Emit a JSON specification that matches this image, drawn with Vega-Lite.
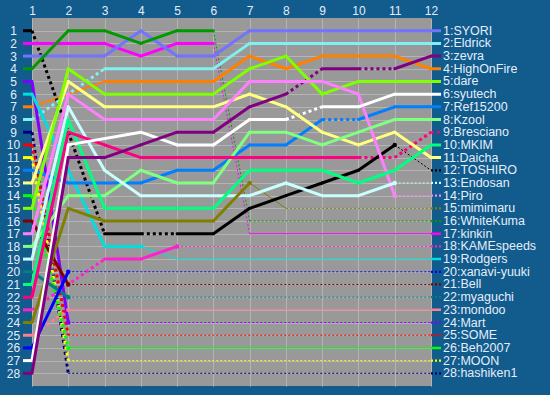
{
"$schema":"https://vega.github.io/schema/vega-lite/v6.json",
"width":399,"height":368,
"autosize":{"type":"none"},
"padding":{"left":32,"top":18,"right":119,"bottom":9},
"background":"#115b8d",
"view":{"fill":"#999999","stroke":null},
"config":{"font":"Liberation Sans","axis":{"labelColor":"#e4eefa","labelFontSize":12,"labelOverlap":false,"domain":false,"ticks":false,"tickSize":0,"tickCount":40,"gridColor":"#b4b4b4","gridWidth":1}},
"data":{"values":[
{"p":"TOSHIRO","r":1,"k":1,"r2":3,"k2":17,"s":"d"},
{"p":"TOSHIRO","r":3,"k":17,"r2":4,"k2":17,"s":"s"},
{"p":"TOSHIRO","r":4,"k":17,"r2":5,"k2":17,"s":"d"},
{"p":"TOSHIRO","r":5,"k":17,"r2":6,"k2":17,"s":"s"},
{"p":"TOSHIRO","r":6,"k":17,"r2":7,"k2":15,"s":"s"},
{"p":"TOSHIRO","r":7,"k":15,"r2":8,"k2":14,"s":"s"},
{"p":"TOSHIRO","r":8,"k":14,"r2":9,"k2":13,"s":"s"},
{"p":"TOSHIRO","r":9,"k":13,"r2":10,"k2":12,"s":"s"},
{"p":"TOSHIRO","r":10,"k":12,"r2":11,"k2":10,"s":"s","e":1},
{"p":"TOSHIRO","r":11,"k":10,"r2":12,"k2":12,"s":"td"},
{"p":"kinkin","r":1,"k":2,"r2":3,"k2":2,"s":"s"},
{"p":"kinkin","r":3,"k":2,"r2":4,"k2":3,"s":"s"},
{"p":"kinkin","r":4,"k":3,"r2":5,"k2":2,"s":"s"},
{"p":"kinkin","r":5,"k":2,"r2":6,"k2":2,"s":"s"},
{"p":"kinkin","r":6,"k":2,"r2":7,"k2":17,"s":"td"},
{"p":"kinkin","r":7,"k":17,"r2":12,"k2":17,"s":"t"},
{"p":"SYORI","r":1,"k":3,"r2":3,"k2":3,"s":"s"},
{"p":"SYORI","r":3,"k":3,"r2":4,"k2":1,"s":"s"},
{"p":"SYORI","r":4,"k":1,"r2":5,"k2":3,"s":"s"},
{"p":"SYORI","r":5,"k":3,"r2":6,"k2":3,"s":"s"},
{"p":"SYORI","r":6,"k":3,"r2":7,"k2":1,"s":"s"},
{"p":"SYORI","r":7,"k":1,"r2":12,"k2":1,"s":"s"},
{"p":"WhiteKuma","r":1,"k":4,"r2":2,"k2":1,"s":"s"},
{"p":"WhiteKuma","r":2,"k":1,"r2":3,"k2":1,"s":"s"},
{"p":"WhiteKuma","r":3,"k":1,"r2":4,"k2":2,"s":"s"},
{"p":"WhiteKuma","r":4,"k":2,"r2":5,"k2":1,"s":"s"},
{"p":"WhiteKuma","r":5,"k":1,"r2":6,"k2":1,"s":"s"},
{"p":"WhiteKuma","r":6,"k":1,"r2":7,"k2":16,"s":"td"},
{"p":"WhiteKuma","r":7,"k":16,"r2":12,"k2":16,"s":"td"},
{"p":"Mart","r":1,"k":5,"r2":2,"k2":24,"s":"s","e":1},
{"p":"Mart","r":2,"k":24,"r2":12,"k2":24,"s":"td"},
{"p":"Rodgers","r":1,"k":6,"r2":2,"k2":12,"s":"s"},
{"p":"Rodgers","r":2,"k":12,"r2":3,"k2":18,"s":"s"},
{"p":"Rodgers","r":3,"k":18,"r2":4,"k2":18,"s":"s","e":1},
{"p":"Rodgers","r":4,"k":18,"r2":5,"k2":19,"s":"t"},
{"p":"Rodgers","r":5,"k":19,"r2":12,"k2":19,"s":"t"},
{"p":"HighOnFire","r":1,"k":7,"r2":3,"k2":5,"s":"m"},
{"p":"HighOnFire","r":3,"k":5,"r2":6,"k2":5,"s":"s"},
{"p":"HighOnFire","r":6,"k":5,"r2":7,"k2":3,"s":"s"},
{"p":"HighOnFire","r":7,"k":3,"r2":8,"k2":4,"s":"s"},
{"p":"HighOnFire","r":8,"k":4,"r2":9,"k2":3,"s":"s"},
{"p":"HighOnFire","r":9,"k":3,"r2":11,"k2":3,"s":"s"},
{"p":"HighOnFire","r":11,"k":3,"r2":12,"k2":4,"s":"s"},
{"p":"Eldrick","r":1,"k":8,"r2":3,"k2":4,"s":"d"},
{"p":"Eldrick","r":3,"k":4,"r2":6,"k2":4,"s":"s"},
{"p":"Eldrick","r":6,"k":4,"r2":7,"k2":2,"s":"s"},
{"p":"Eldrick","r":7,"k":2,"r2":12,"k2":2,"s":"s"},
{"p":"hashiken1","r":1,"k":9,"r2":2,"k2":28,"s":"d"},
{"p":"hashiken1","r":2,"k":28,"r2":12,"k2":28,"s":"td"},
{"p":"SOME","r":1,"k":10,"r2":2,"k2":25,"s":"d"},
{"p":"SOME","r":2,"k":25,"r2":12,"k2":25,"s":"td"},
{"p":"MOON","r":1,"k":11,"r2":2,"k2":27,"s":"d"},
{"p":"MOON","r":2,"k":27,"r2":12,"k2":27,"s":"td"},
{"p":"Ref15200","r":1,"k":12,"r2":2,"k2":13,"s":"s"},
{"p":"Ref15200","r":2,"k":13,"r2":4,"k2":13,"s":"s"},
{"p":"Ref15200","r":4,"k":13,"r2":5,"k2":12,"s":"s"},
{"p":"Ref15200","r":5,"k":12,"r2":6,"k2":12,"s":"s"},
{"p":"Ref15200","r":6,"k":12,"r2":7,"k2":10,"s":"s"},
{"p":"Ref15200","r":7,"k":10,"r2":8,"k2":10,"s":"s"},
{"p":"Ref15200","r":8,"k":10,"r2":9,"k2":8,"s":"s"},
{"p":"Ref15200","r":9,"k":8,"r2":10,"k2":8,"s":"d"},
{"p":"Ref15200","r":10,"k":8,"r2":11,"k2":7,"s":"s"},
{"p":"Ref15200","r":11,"k":7,"r2":12,"k2":7,"s":"s"},
{"p":"Daicha","r":1,"k":13,"r2":2,"k2":5,"s":"s"},
{"p":"Daicha","r":2,"k":5,"r2":3,"k2":7,"s":"s"},
{"p":"Daicha","r":3,"k":7,"r2":6,"k2":7,"s":"s"},
{"p":"Daicha","r":6,"k":7,"r2":7,"k2":6,"s":"s"},
{"p":"Daicha","r":7,"k":6,"r2":8,"k2":7,"s":"s"},
{"p":"Daicha","r":8,"k":7,"r2":9,"k2":9,"s":"s"},
{"p":"Daicha","r":9,"k":9,"r2":10,"k2":10,"s":"s"},
{"p":"Daicha","r":10,"k":10,"r2":11,"k2":9,"s":"s"},
{"p":"Daicha","r":11,"k":9,"r2":12,"k2":11,"s":"s"},
{"p":"Beh2007","r":1,"k":14,"r2":2,"k2":26,"s":"d","e":1},
{"p":"Beh2007","r":2,"k":26,"r2":12,"k2":26,"s":"t"},
{"p":"dare","r":1,"k":15,"r2":2,"k2":4,"s":"s"},
{"p":"dare","r":2,"k":4,"r2":3,"k2":6,"s":"s"},
{"p":"dare","r":3,"k":6,"r2":6,"k2":6,"s":"s"},
{"p":"dare","r":6,"k":6,"r2":7,"k2":4,"s":"s"},
{"p":"dare","r":7,"k":4,"r2":8,"k2":3,"s":"s"},
{"p":"dare","r":8,"k":3,"r2":9,"k2":6,"s":"s"},
{"p":"dare","r":9,"k":6,"r2":10,"k2":5,"s":"s"},
{"p":"dare","r":10,"k":5,"r2":12,"k2":5,"s":"s"},
{"p":"Bell","r":1,"k":16,"r2":2,"k2":21,"s":"s","e":1},
{"p":"Bell","r":2,"k":21,"r2":12,"k2":21,"s":"td"},
{"p":"Piro","r":1,"k":17,"r2":2,"k2":6,"s":"s"},
{"p":"Piro","r":2,"k":6,"r2":3,"k2":8,"s":"s"},
{"p":"Piro","r":3,"k":8,"r2":6,"k2":8,"s":"s"},
{"p":"Piro","r":6,"k":8,"r2":7,"k2":5,"s":"s"},
{"p":"Piro","r":7,"k":5,"r2":9,"k2":5,"s":"s"},
{"p":"Piro","r":9,"k":5,"r2":10,"k2":6,"s":"s"},
{"p":"Piro","r":10,"k":6,"r2":11,"k2":14,"s":"s","e":1},
{"p":"Piro","r":11,"k":14,"r2":12,"k2":14,"s":"td"},
{"p":"Kzool","r":1,"k":18,"r2":2,"k2":14,"s":"s"},
{"p":"Kzool","r":2,"k":14,"r2":3,"k2":14,"s":"s"},
{"p":"Kzool","r":3,"k":14,"r2":4,"k2":12,"s":"s"},
{"p":"Kzool","r":4,"k":12,"r2":5,"k2":13,"s":"s"},
{"p":"Kzool","r":5,"k":13,"r2":6,"k2":13,"s":"s"},
{"p":"Kzool","r":6,"k":13,"r2":7,"k2":9,"s":"s"},
{"p":"Kzool","r":7,"k":9,"r2":8,"k2":9,"s":"s"},
{"p":"Kzool","r":8,"k":9,"r2":9,"k2":10,"s":"s"},
{"p":"Kzool","r":9,"k":10,"r2":10,"k2":9,"s":"s"},
{"p":"Kzool","r":10,"k":9,"r2":11,"k2":8,"s":"s"},
{"p":"Kzool","r":11,"k":8,"r2":12,"k2":8,"s":"s"},
{"p":"Endosan","r":1,"k":19,"r2":2,"k2":7,"s":"s"},
{"p":"Endosan","r":2,"k":7,"r2":3,"k2":12,"s":"s"},
{"p":"Endosan","r":3,"k":12,"r2":4,"k2":14,"s":"s"},
{"p":"Endosan","r":4,"k":14,"r2":7,"k2":14,"s":"s"},
{"p":"Endosan","r":7,"k":14,"r2":8,"k2":13,"s":"s"},
{"p":"Endosan","r":8,"k":13,"r2":9,"k2":14,"s":"s"},
{"p":"Endosan","r":9,"k":14,"r2":10,"k2":14,"s":"s"},
{"p":"Endosan","r":10,"k":14,"r2":11,"k2":13,"s":"s","e":1},
{"p":"Endosan","r":11,"k":13,"r2":12,"k2":13,"s":"td"},
{"p":"myaguchi","r":1,"k":20,"r2":2,"k2":22,"s":"s","e":1},
{"p":"myaguchi","r":2,"k":22,"r2":12,"k2":22,"s":"td"},
{"p":"MKIM","r":1,"k":21,"r2":2,"k2":8,"s":"s"},
{"p":"MKIM","r":2,"k":8,"r2":3,"k2":15,"s":"s"},
{"p":"MKIM","r":3,"k":15,"r2":6,"k2":15,"s":"s"},
{"p":"MKIM","r":6,"k":15,"r2":7,"k2":12,"s":"s"},
{"p":"MKIM","r":7,"k":12,"r2":9,"k2":12,"s":"s"},
{"p":"MKIM","r":9,"k":12,"r2":10,"k2":13,"s":"s"},
{"p":"MKIM","r":10,"k":13,"r2":11,"k2":12,"s":"s"},
{"p":"MKIM","r":11,"k":12,"r2":12,"k2":10,"s":"s"},
{"p":"Bresciano","r":1,"k":22,"r2":2,"k2":9,"s":"s"},
{"p":"Bresciano","r":2,"k":9,"r2":3,"k2":10,"s":"s"},
{"p":"Bresciano","r":3,"k":10,"r2":4,"k2":11,"s":"s"},
{"p":"Bresciano","r":4,"k":11,"r2":10,"k2":11,"s":"s"},
{"p":"Bresciano","r":10,"k":11,"r2":11,"k2":11,"s":"d"},
{"p":"Bresciano","r":11,"k":11,"r2":12,"k2":9,"s":"d"},
{"p":"KAMEspeeds","r":1,"k":23,"r2":3,"k2":19,"s":"d"},
{"p":"KAMEspeeds","r":3,"k":19,"r2":4,"k2":19,"s":"s"},
{"p":"KAMEspeeds","r":4,"k":19,"r2":5,"k2":18,"s":"s","e":1},
{"p":"KAMEspeeds","r":5,"k":18,"r2":12,"k2":18,"s":"td"},
{"p":"mimimaru","r":1,"k":24,"r2":2,"k2":15,"s":"s"},
{"p":"mimimaru","r":2,"k":15,"r2":3,"k2":16,"s":"s"},
{"p":"mimimaru","r":3,"k":16,"r2":6,"k2":16,"s":"s"},
{"p":"mimimaru","r":6,"k":16,"r2":7,"k2":13,"s":"s","e":1},
{"p":"mimimaru","r":7,"k":13,"r2":8,"k2":15,"s":"t"},
{"p":"mimimaru","r":8,"k":15,"r2":12,"k2":15,"s":"td"},
{"p":"mondoo","r":1,"k":25,"r2":2,"k2":23,"s":"d","e":1},
{"p":"mondoo","r":2,"k":23,"r2":12,"k2":23,"s":"t"},
{"p":"xanavi-yuuki","r":1,"k":26,"r2":2,"k2":20,"s":"s","e":1},
{"p":"xanavi-yuuki","r":2,"k":20,"r2":12,"k2":20,"s":"td"},
{"p":"syutech","r":1,"k":27,"r2":2,"k2":10,"s":"s"},
{"p":"syutech","r":2,"k":10,"r2":4,"k2":9,"s":"s"},
{"p":"syutech","r":4,"k":9,"r2":5,"k2":10,"s":"s"},
{"p":"syutech","r":5,"k":10,"r2":6,"k2":10,"s":"s"},
{"p":"syutech","r":6,"k":10,"r2":7,"k2":8,"s":"s"},
{"p":"syutech","r":7,"k":8,"r2":8,"k2":8,"s":"s"},
{"p":"syutech","r":8,"k":8,"r2":9,"k2":7,"s":"d"},
{"p":"syutech","r":9,"k":7,"r2":10,"k2":7,"s":"s"},
{"p":"syutech","r":10,"k":7,"r2":11,"k2":6,"s":"s"},
{"p":"syutech","r":11,"k":6,"r2":12,"k2":6,"s":"s"},
{"p":"zevra","r":1,"k":28,"r2":2,"k2":11,"s":"s"},
{"p":"zevra","r":2,"k":11,"r2":3,"k2":11,"s":"s"},
{"p":"zevra","r":3,"k":11,"r2":4,"k2":10,"s":"s"},
{"p":"zevra","r":4,"k":10,"r2":5,"k2":9,"s":"s"},
{"p":"zevra","r":5,"k":9,"r2":6,"k2":9,"s":"s"},
{"p":"zevra","r":6,"k":9,"r2":7,"k2":7,"s":"s"},
{"p":"zevra","r":7,"k":7,"r2":8,"k2":6,"s":"s"},
{"p":"zevra","r":8,"k":6,"r2":9,"k2":4,"s":"d"},
{"p":"zevra","r":9,"k":4,"r2":10,"k2":4,"s":"s"},
{"p":"zevra","r":10,"k":4,"r2":11,"k2":4,"s":"d"},
{"p":"zevra","r":11,"k":4,"r2":12,"k2":3,"s":"s"}
]},
"encoding":{
"color":{"field":"p","type":"nominal","legend":null,"scale":{
"domain":["SYORI","Eldrick","zevra","HighOnFire","dare","syutech","Ref15200","Kzool","Bresciano","MKIM","Daicha","TOSHIRO","Endosan","Piro","mimimaru","WhiteKuma","kinkin","KAMEspeeds","Rodgers","xanavi-yuuki","Bell","myaguchi","mondoo","Mart","SOME","Beh2007","MOON","hashiken1"],
"range":["#7373ff","#80f0f0","#800080","#ff8000","#80ff00","#ffffff","#0080ff","#80ff80","#ff0080","#00ff80","#ffff80","#000000","#c8ffff","#ff80ff","#808000","#009900","#ff00ff","#ff20d0","#00dede","#0000ff","#800000","#008080","#ff7f90","#8000ff","#ff0000","#00ff00","#ffff00","#000080"]}}
},
"layer":[
{"transform":[{"filter":"datum.s=='td'"}],
 "mark":{"type":"rule","strokeWidth":1,"strokeDash":[2,2]},
 "encoding":{
  "x":{"field":"r","type":"quantitative","title":null,"scale":{"domain":[1,12],"nice":false,"zero":false},
       "axis":{"orient":"top","values":[1,2,3,4,5,6,7,8,9,10,11,12],"format":"d","tickCount":40,"labelPadding":1,"grid":true,"labelFlush":false,"labelOverlap":false}},
  "y":{"field":"k","type":"quantitative","title":null,"scale":{"domain":[0,29],"reverse":true,"nice":false,"zero":false},
       "axis":{"orient":"left","values":[1,2,3,4,5,6,7,8,9,10,11,12,13,14,15,16,17,18,19,20,21,22,23,24,25,26,27,28],"format":"d","tickCount":40,"labelPadding":19,"labelAlign":"center","grid":true,"labelFlush":false,"labelOverlap":false}},
  "x2":{"field":"r2"},"y2":{"field":"k2"}}},
{"transform":[{"filter":"datum.s=='t'"}],
 "mark":{"type":"rule","strokeWidth":1},
 "encoding":{"x":{"field":"r","type":"quantitative","title":null},"y":{"field":"k","type":"quantitative","title":null},"x2":{"field":"r2"},"y2":{"field":"k2"}}},
{"transform":[{"filter":"datum.s=='m'"}],
 "mark":{"type":"rule","strokeWidth":2},
 "encoding":{"x":{"field":"r","type":"quantitative","title":null},"y":{"field":"k","type":"quantitative","title":null},"x2":{"field":"r2"},"y2":{"field":"k2"}}},
{"transform":[{"filter":"datum.s=='d'"}],
 "mark":{"type":"rule","strokeWidth":3,"strokeDash":[3,3]},
 "encoding":{"x":{"field":"r","type":"quantitative","title":null},"y":{"field":"k","type":"quantitative","title":null},"x2":{"field":"r2"},"y2":{"field":"k2"}}},
{"transform":[{"filter":"datum.s=='s'"}],
 "mark":{"type":"rule","strokeWidth":3,"strokeCap":"round"},
 "encoding":{"x":{"field":"r","type":"quantitative","title":null},"y":{"field":"k","type":"quantitative","title":null},"x2":{"field":"r2"},"y2":{"field":"k2"}}},
{"transform":[{"filter":"datum.r==1"}],
 "mark":{"type":"rule","strokeWidth":3,"xOffset":-9,"clip":false},
 "encoding":{"x":{"field":"r","type":"quantitative","title":null},"x2":{"field":"r"},"y":{"field":"k","type":"quantitative","title":null}}},
{"transform":[{"filter":"datum.r2==12"}],
 "mark":{"type":"rule","x2Offset":10,"clip":false},
 "encoding":{"x":{"field":"r2","type":"quantitative","title":null},"x2":{"field":"r2"},"y":{"field":"k2","type":"quantitative","title":null},
  "strokeWidth":{"field":"s","type":"nominal","legend":null,"scale":{"domain":["s","m","t","td","d"],"range":[3,2,1,1,3]}},
  "strokeDash":{"field":"s","type":"nominal","legend":null,"scale":{"domain":["s","m","t","td","d"],"range":[[1,0],[1,0],[1,0],[2,2],[3,3]]}}}},
{"transform":[{"filter":"datum.e==1"}],
 "mark":{"type":"point","filled":true,"size":20,"opacity":1},
 "encoding":{"x":{"field":"r2","type":"quantitative","title":null},"y":{"field":"k2","type":"quantitative","title":null}}},
{"transform":[{"filter":"datum.r2==12"},{"calculate":"datum.k2 + ':' + datum.p","as":"lab"}],
 "mark":{"type":"text","align":"left","baseline":"middle","dx":12,"fontSize":12.5,"color":"#e4eefa","clip":false},
 "encoding":{"x":{"field":"r2","type":"quantitative","title":null},"y":{"field":"k2","type":"quantitative","title":null},"text":{"field":"lab"},"color":{"value":"#e4eefa"}}}
]
}
